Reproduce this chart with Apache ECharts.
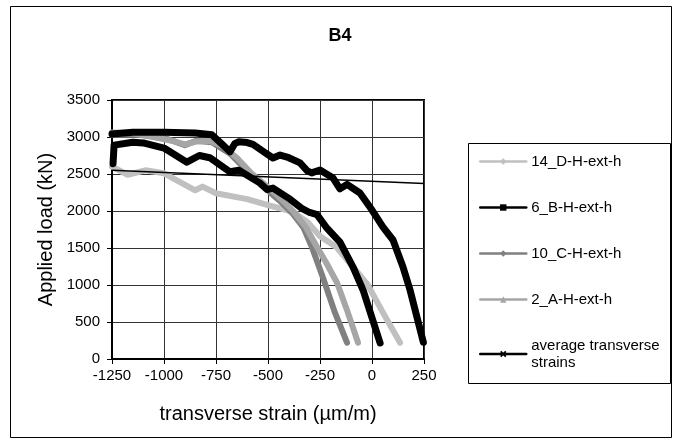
<!DOCTYPE html>
<html><head><meta charset="utf-8">
<script src="https://cdn.jsdelivr.net/npm/echarts@6/dist/echarts.min.js"></script>
<style>html,body{margin:0;padding:0;background:#fff}#c{width:680px;height:444px}</style>
</head><body><div id="c"></div>
<script>
const titleText = 'B4';
const xTitle = 'transverse strain (\u00b5m/m)';
const yTitle = 'Applied load (kN)';
const seriesNames = ['14_D-H-ext-h','6_B-H-ext-h','10_C-H-ext-h','2_A-H-ext-h','average transverse strains'];

const x14 = [-1250,-1175,-1090,-1000,-850,-815,-750,-600,-500,-380,-310,-250,-170,-90,-20,50,135];
const y14 = [2600,2490,2550,2510,2280,2330,2240,2160,2080,1990,1850,1660,1510,1240,1000,640,220];

const x6 = [-1250,-1150,-1000,-850,-770,-720,-683,-660,-640,-600,-572,-520,-476,-442,-400,-346,-310,-290,-250,-187,-154,-120,-58,0,53,101,149,183,247];
const y6 = [3040,3065,3065,3055,3030,2900,2800,2910,2935,2925,2900,2800,2716,2756,2720,2650,2540,2515,2554,2445,2300,2360,2243,2013,1783,1608,1243,932,226];

const x10 = [-1250,-1120,-1000,-900,-845,-770,-680,-620,-560,-490,-440,-380,-330,-290,-236,-180,-120];
const y10 = [3030,3030,2990,2890,2950,2930,2770,2600,2450,2250,2130,1960,1780,1520,1100,640,220];

const x2 = [-1250,-1150,-1050,-950,-900,-840,-780,-720,-650,-580,-500,-440,-380,-320,-270,-220,-168,-120,-67];
const y2 = [3060,3050,3000,2940,2900,2940,2950,2880,2720,2510,2320,2170,2000,1790,1540,1300,1030,660,220];

const xAvg = [-1245,-1240,-1150,-1100,-1000,-890,-830,-780,-683,-640,-540,-505,-476,-394,-340,-300,-264,-220,-154,-91,-43,39];
const yAvg = [2640,2890,2930,2920,2850,2660,2750,2720,2530,2550,2380,2290,2310,2160,2040,1980,1950,1780,1580,1243,932,216];

const xTrend = [-1250, 250];
const yTrend = [2550, 2370];

const xMin = -1250, xMax = 250, xStep = 250;
const yMin = 0, yMax = 3500, yStep = 500;

function pairs(xs, ys){ return xs.map((x,i)=>[x, ys[i]]); }

const colors = ['#c0c0c0','#000000','#808080','#a6a6a6','#000000'];
const symbols = ['diamond','rect','diamond','triangle','path://M0,2L2,0L5,3L8,0L10,2L7,5L10,8L8,10L5,7L2,10L0,8L3,5Z'];
const datasets = [pairs(x14,y14), pairs(x6,y6), pairs(x10,y10), pairs(x2,y2), pairs(xAvg,yAvg)];
const widths = [6,7,6,6,7];
const zs = [2,6,3,4,5];

const chart = echarts.init(document.getElementById('c'), null, {renderer:'canvas'});
const series = seriesNames.map((n,i)=>({
  name:n, type:'line', data:datasets[i], showSymbol:false, symbol:symbols[i], symbolSize:7,
  lineStyle:{color:colors[i], width:widths[i], cap:'round', join:'round'},
  itemStyle:{color:colors[i]}, color:colors[i], z:zs[i], animation:false
}));
series.push({name:'trend', type:'line', data:pairs(xTrend,yTrend), showSymbol:false, symbol:'none',
  lineStyle:{color:'#000', width:1.5}, z:10, animation:false});

const FONT = 'Liberation Sans, Arial, sans-serif';
const plain = v => String(v);
chart.setOption({
  animation:false,
  backgroundColor:'#fff',
  title:{text:titleText, left:'center', top:22, textStyle:{fontFamily:FONT, fontSize:18, fontWeight:'bold', color:'#000'}},
  grid:{left:112, right:256, top:100, bottom:85, show:true, borderColor:'#000', borderWidth:2, backgroundColor:'#fff'},
  xAxis:{type:'value', min:xMin, max:xMax, interval:xStep,
    name:xTitle, nameLocation:'middle', nameGap:45, nameTextStyle:{fontFamily:FONT, fontSize:20, color:'#000'},
    axisLine:{show:true, onZero:false, lineStyle:{color:'#000', width:2}}, axisTick:{show:true, inside:false, length:5, lineStyle:{color:'#000'}},
    axisLabel:{fontFamily:FONT, fontSize:15, color:'#000', margin:9, formatter:plain},
    splitLine:{show:true, lineStyle:{color:'#333', width:1}}},
  yAxis:{type:'value', min:yMin, max:yMax, interval:yStep,
    name:yTitle, nameLocation:'middle', nameGap:56, nameTextStyle:{fontFamily:FONT, fontSize:20, color:'#000'},
    axisLine:{show:true, onZero:false, lineStyle:{color:'#000', width:2}}, axisTick:{show:true, inside:false, length:5, lineStyle:{color:'#000'}},
    axisLabel:{fontFamily:FONT, fontSize:15, color:'#000', margin:12, formatter:plain},
    splitLine:{show:true, lineStyle:{color:'#333', width:1}}},
  legend:{data:seriesNames, orient:'vertical', left:474, top:148, itemGap:29, itemWidth:46, itemHeight:8,
    textStyle:{fontFamily:FONT, fontSize:15, color:'#000', lineHeight:17},
    lineStyle:{width:2.5},
    formatter:n => n==='average transverse strains' ? 'average transverse\nstrains' : n},
  graphic:[
    {type:'rect', shape:{x:10.5, y:6.5, width:661, height:431}, style:{fill:null, stroke:'#000', lineWidth:1}, z:-1, silent:true},
    {type:'rect', shape:{x:468.5, y:143.5, width:202, height:240}, style:{fill:null, stroke:'#000', lineWidth:1}, z:0, silent:true}
  ],
  series:series
});
</script></body></html>
